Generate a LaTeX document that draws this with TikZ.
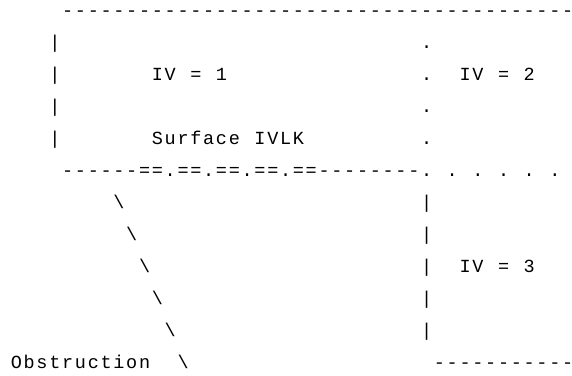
\documentclass[tikz,border=0pt]{standalone}
\usepackage{fontspec}
\newfontfamily\asciifont{Liberation Mono}
\begin{document}
\begin{tikzpicture}[x=1pt,y=1pt,
  g/.style={anchor=base, inner sep=0pt, outer sep=0pt,
    font=\asciifont\fontsize{18.5}{18.5}\selectfont}]
\useasboundingbox (0,0) rectangle (572,-375);
\def\cw{12.82}
\def\xo{10}
\def\bo{16.5}
% one character at (row, column)
\newcommand\gl[3]{\node[g] (g-#1-#2) at ({\xo+(#2+0.5)*\cw},{-\bo-#1*32}) {#3};}
% a run of characters starting at (row, column)
\newcommand\chrun[3]{\foreach \ch [count=\k from 0] in {#3}
  {\pgfmathtruncatemacro\cc{#2+\k}\gl{#1}{\cc}{\ch}}}
% row 0: top line
\foreach \c in {4,...,43} {\gl{0}{\c}{-}}
% rows 1-4
\foreach \r in {1,...,4} {\gl{\r}{3}{|}\gl{\r}{32}{.}}
\chrun{2}{11}{I,V}\gl{2}{14}{=}\gl{2}{16}{1}
\chrun{2}{35}{I,V}\gl{2}{38}{=}\gl{2}{40}{2}
\chrun{4}{11}{S,u,r,f,a,c,e}\chrun{4}{19}{I,V,L,K}
% row 5
\foreach \c in {4,...,9} {\gl{5}{\c}{-}}
\chrun{5}{10}{=,=,.,=,=,.,=,=,.,=,=,.,=,=}
\foreach \c in {24,...,31} {\gl{5}{\c}{-}}
\foreach \c in {32,34,...,42} {\gl{5}{\c}{.}}
% rows 6-10
\foreach \r in {6,...,10} {\pgfmathtruncatemacro\bc{\r+2}\gl{\r}{\bc}{\textbackslash}\gl{\r}{32}{|}}
\chrun{8}{35}{I,V}\gl{8}{38}{=}\gl{8}{40}{3}
% row 11
\chrun{11}{0}{O,b,s,t,r,u,c,t,i,o,n}
\gl{11}{13}{\textbackslash}
\foreach \c in {33,...,43} {\gl{11}{\c}{-}}
\end{tikzpicture}
\end{document}
